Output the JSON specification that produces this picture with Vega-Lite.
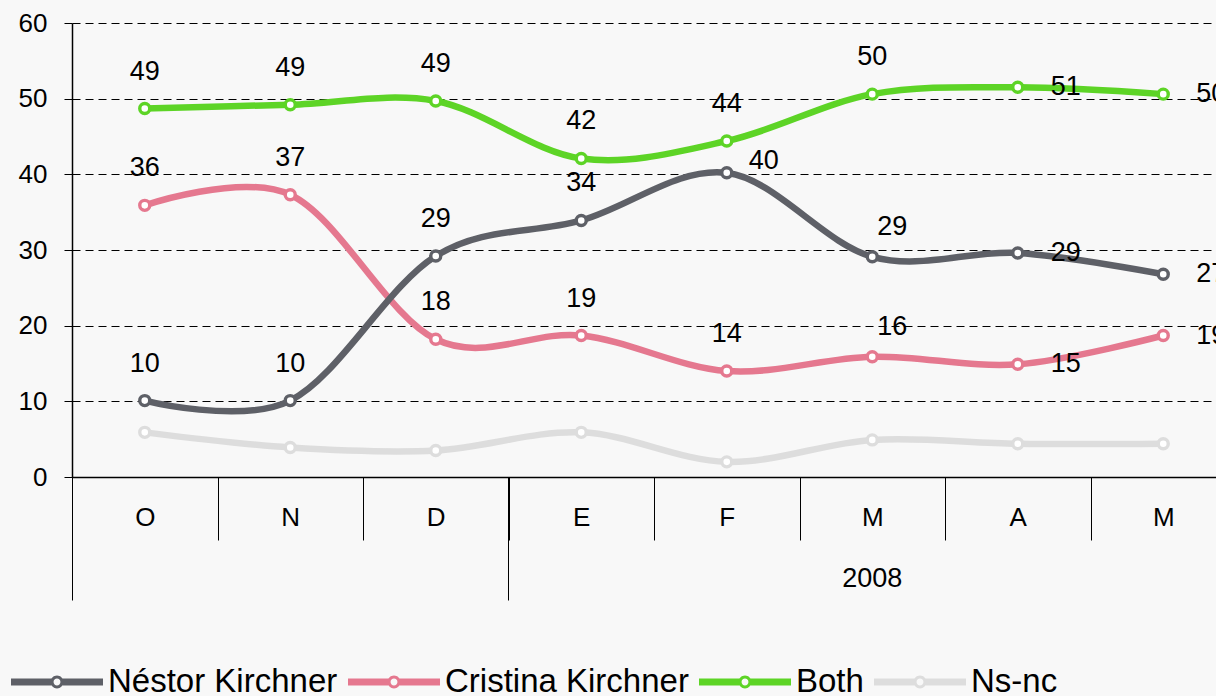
{
  "$schema": "https://vega.github.io/schema/vega-lite/v6.json",
  "width": 1144,
  "height": 454,
  "autosize": {"type": "none"},
  "padding": {"left": 72, "top": 23, "right": 0, "bottom": 219},
  "background": "#f8f8f8",
  "config": {
    "view": {"stroke": null},
    "font": "Liberation Sans",
    "axis": {"labelFont": "Liberation Sans", "labelColor": "black"},
    "legend": {"labelFont": "Liberation Sans"}
  },
  "data": {
    "values": [
      {"month": "Oct", "series": "Ns-nc", "value": 5.9, "label": null},
      {"month": "Nov", "series": "Ns-nc", "value": 3.9, "label": null},
      {"month": "Dic", "series": "Ns-nc", "value": 3.5, "label": null},
      {"month": "Ene", "series": "Ns-nc", "value": 5.9, "label": null},
      {"month": "Feb", "series": "Ns-nc", "value": 2.0, "label": null},
      {"month": "Mar", "series": "Ns-nc", "value": 4.9, "label": null},
      {"month": "Abr", "series": "Ns-nc", "value": 4.4, "label": null},
      {"month": "May", "series": "Ns-nc", "value": 4.4, "label": null},
      {"month": "Oct", "series": "Both", "value": 48.7, "label": "49"},
      {"month": "Nov", "series": "Both", "value": 49.2, "label": "49"},
      {"month": "Dic", "series": "Both", "value": 49.7, "label": "49"},
      {"month": "Ene", "series": "Both", "value": 42.1, "label": "42"},
      {"month": "Feb", "series": "Both", "value": 44.4, "label": "44"},
      {"month": "Mar", "series": "Both", "value": 50.6, "label": "50"},
      {"month": "Abr", "series": "Both", "value": 51.5, "label": "51"},
      {"month": "May", "series": "Both", "value": 50.6, "label": "50"},
      {"month": "Oct", "series": "Cristina Kirchner", "value": 35.9, "label": "36"},
      {"month": "Nov", "series": "Cristina Kirchner", "value": 37.3, "label": "37"},
      {"month": "Dic", "series": "Cristina Kirchner", "value": 18.2, "label": "18"},
      {"month": "Ene", "series": "Cristina Kirchner", "value": 18.7, "label": "19"},
      {"month": "Feb", "series": "Cristina Kirchner", "value": 14.0, "label": "14"},
      {"month": "Mar", "series": "Cristina Kirchner", "value": 15.9, "label": "16"},
      {"month": "Abr", "series": "Cristina Kirchner", "value": 14.9, "label": "15"},
      {"month": "May", "series": "Cristina Kirchner", "value": 18.7, "label": "19"},
      {"month": "Oct", "series": "Néstor Kirchner", "value": 10.1, "label": "10"},
      {"month": "Nov", "series": "Néstor Kirchner", "value": 10.1, "label": "10"},
      {"month": "Dic", "series": "Néstor Kirchner", "value": 29.2, "label": "29"},
      {"month": "Ene", "series": "Néstor Kirchner", "value": 33.9, "label": "34"},
      {"month": "Feb", "series": "Néstor Kirchner", "value": 40.2, "label": "40"},
      {"month": "Mar", "series": "Néstor Kirchner", "value": 29.1, "label": "29"},
      {"month": "Abr", "series": "Néstor Kirchner", "value": 29.6, "label": "29"},
      {"month": "May", "series": "Néstor Kirchner", "value": 26.8, "label": "27"}
    ]
  },
  "layer": [
    {
      "encoding": {
        "x": {
          "field": "month", "type": "nominal",
          "sort": ["Oct", "Nov", "Dic", "Ene", "Feb", "Mar", "Abr", "May"],
          "scale": {"type": "band", "paddingInner": 0, "paddingOuter": 0, "range": [0, 1164]},
          "axis": {
            "orient": "bottom", "title": null, "grid": false,
            "tickBand": "extent", "tickSize": 63, "tickColor": "black", "tickWidth": 1,
            "domainColor": "black", "domainWidth": 1.5,
            "labelExpr": "datum.value ? substring(datum.value, 0, 1) : ''",
            "labelAngle": 0, "labelPadding": -36, "labelFontSize": 26, "labelBaseline": "top"
          }
        },
        "y": {
          "field": "value", "type": "quantitative",
          "scale": {"domain": [0, 60], "nice": false},
          "axis": {
            "title": null, "values": [0, 10, 20, 30, 40, 50, 60],
            "tickSize": 8, "tickColor": "black", "domainColor": "black", "domainWidth": 1.5,
            "grid": true, "gridColor": "black", "gridDash": [8, 5], "gridWidth": 1,
            "labelPadding": 17, "labelFontSize": 26
          }
        },
        "color": {
          "field": "series", "type": "nominal",
          "scale": {
            "domain": ["Néstor Kirchner", "Cristina Kirchner", "Both", "Ns-nc"],
            "range": ["#5e6067", "#e5788f", "#5dd426", "#dddddd"]
          },
          "legend": {
            "orient": "none", "legendX": -61, "legendY": 613, "direction": "horizontal",
            "title": null, "padding": 0,
            "symbolType": "M-1,-0.075H-0.12V0.075H-1Z M0.12,-0.075H1V0.075H0.12Z M0.14,0A0.14,0.14 0 1 1 -0.14,0A0.14,0.14 0 1 1 0.14,0Z M0.075,0A0.075,0.075 0 1 0 -0.075,0A0.075,0.075 0 1 0 0.075,0Z",
            "symbolSize": 8464, "symbolStrokeWidth": 0,
            "labelFontSize": 33, "labelColor": "black", "labelOffset": 5, "labelLimit": 0,
            "columnPadding": 10,
            "encode": {
              "symbols": {
                "update": {
                  "fill": {"scale": "color", "field": "value"},
                  "stroke": {"value": "transparent"},
                  "opacity": {"value": 1}
                }
              }
            }
          }
        }
      },
      "layer": [
        {
          "mark": {"type": "line", "interpolate": "cardinal", "tension": 0, "strokeWidth": 6.5, "strokeCap": "round", "strokeJoin": "round"}
        },
        {
          "mark": {"type": "point", "filled": false, "fill": "white", "size": 100, "strokeWidth": 3.4, "opacity": 1}
        },
        {
          "transform": [{"filter": "datum.series !== 'Ns-nc' && datum.month !== 'Abr' && datum.month !== 'May' && !(datum.series === 'Néstor Kirchner' && datum.month === 'Feb') && !(datum.month === 'Mar' && datum.series !== 'Both')"}],
          "mark": {"type": "text", "fontSize": 27, "align": "center", "baseline": "middle", "dy": -37},
          "encoding": {"text": {"field": "label"}, "color": {"value": "black"}}
        },
        {
          "transform": [{"filter": "datum.month === 'Mar' && (datum.series === 'Néstor Kirchner' || datum.series === 'Cristina Kirchner')"}],
          "mark": {"type": "text", "fontSize": 27, "align": "center", "baseline": "middle", "dx": 20, "dy": -30},
          "encoding": {"text": {"field": "label"}, "color": {"value": "black"}}
        },
        {
          "transform": [{"filter": "datum.month === 'Feb' && datum.series === 'Néstor Kirchner'"}],
          "mark": {"type": "text", "fontSize": 27, "align": "center", "baseline": "middle", "dx": 37, "dy": -12},
          "encoding": {"text": {"field": "label"}, "color": {"value": "black"}}
        },
        {
          "transform": [{"filter": "datum.series !== 'Ns-nc' && (datum.month === 'Abr' || datum.month === 'May')"}],
          "mark": {"type": "text", "fontSize": 27, "align": "center", "baseline": "middle", "dx": 48, "dy": 0},
          "encoding": {"text": {"field": "label"}, "color": {"value": "black"}}
        }
      ]
    },
    {
      "transform": [{"filter": "datum.series === 'Both'"}],
      "mark": {"type": "rule", "opacity": 0},
      "encoding": {
        "x": {
          "field": "month", "type": "nominal",
          "sort": ["Oct", "Nov", "Dic", "Ene", "Feb", "Mar", "Abr", "May"],
          "scale": {"type": "band", "paddingInner": 0, "paddingOuter": 0, "range": [0, 1164]},
          "axis": {
            "orient": "bottom", "title": null, "grid": false, "domain": false,
            "values": ["Oct", "Ene", "Mar"],
            "bandPosition": 0, "tickSize": 123, "tickColor": "black", "tickWidth": 1,
            "tickOpacity": {"condition": {"test": "datum.value === 'Mar'", "value": 0}, "value": 1},
            "labelExpr": "datum.value === 'Mar' ? '2008' : ''",
            "labelAngle": 0, "labelPadding": -35, "labelFontSize": 27, "labelBaseline": "top"
          }
        }
      }
    }
  ],
  "resolve": {"scale": {"x": "independent"}, "axis": {"x": "independent"}}
}
